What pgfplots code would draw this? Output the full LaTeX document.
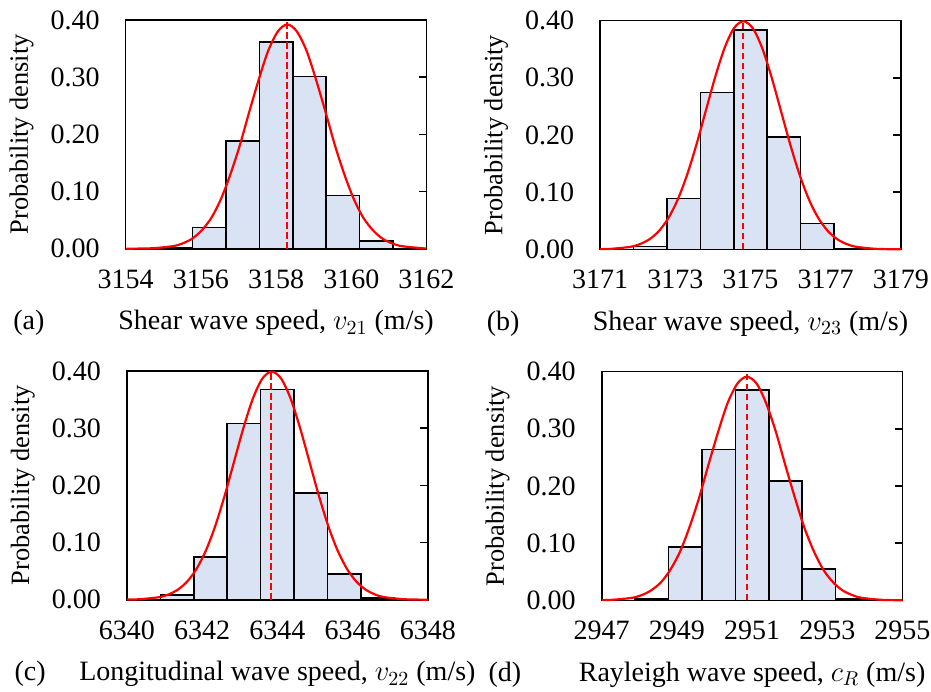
\documentclass[border=0pt]{standalone}
\usepackage{fontspec}
\setmainfont{Liberation Serif}
\usepackage{pgfplots}
\pgfplotsset{compat=1.18}
\definecolor{barfill}{HTML}{DAE3F3}
\definecolor{pdfred}{HTML}{FF0000}

\pgfplotsset{
  hist/.style={
    scale only axis, width=150.4pt, height=114.35pt,
    clip=false,
    axis line style={line width=0.8pt},
    ymin=0, ymax=0.4,
    ytick={0,0.1,0.2,0.3,0.4},
    ytick pos=right, yticklabel pos=left, ytick align=inside,
    major tick length=3.8pt,
    every tick/.style={black, line width=0.8pt},
    xtick style={draw=none},
    y tick label style={/pgf/number format/assume math mode=true,
      /pgf/number format/fixed, /pgf/number format/fixed zerofill,
      /pgf/number format/precision=2, anchor=east, inner sep=0pt, xshift=-12.8pt},
    x tick label style={/pgf/number format/assume math mode=true,
      /pgf/number format/1000 sep={}, anchor=base, inner sep=0pt, yshift=-19.7pt},
    ylabel={Probability density},
    ylabel style={at={(axis description cs:-0.346,0.5)}, anchor=center,
      font=\fontsize{13.2}{15}\selectfont},
    xlabel style={at={(axis description cs:0.5,-0.355)}, anchor=base},
  },
  bars/.style={ybar interval, fill=barfill, draw=black, line width=0.8pt},
  pdf/.style={pdfred, line width=1.1pt, smooth},
  mean/.style={pdfred, line width=1pt, dash pattern=on 3.3pt off 1.7pt},
}

\begin{document}
\begin{tikzpicture}[font=\fontsize{14}{16}\selectfont]
\path[use as bounding box] (-62.85pt,-221.15pt) rectangle (402.65pt,124.35pt);

% (a)
\begin{axis}[hist, at={(0pt,0pt)},
  xmin=3154, xmax=3162, xtick={3154,3156,3158,3160,3162},
  xlabel={Shear wave speed, $v_{21}$ (m/s)}]
\addplot[bars] coordinates {
  (3154.000,0) (3154.889,0.002) (3155.778,0.037) (3156.667,0.188)
  (3157.556,0.362) (3158.444,0.301) (3159.333,0.093) (3160.222,0.013)
  (3161.111,0) (3162.000,0)};
\addplot[pdf] coordinates {
  (3154.00,0.0000) (3154.23,0.0001) (3154.74,0.0009) (3155.25,0.0044)
  (3155.50,0.0089) (3155.76,0.0172) (3156.01,0.0312) (3156.27,0.0531)
  (3156.52,0.0848) (3156.77,0.1274) (3157.03,0.1796) (3157.28,0.2379)
  (3157.54,0.2961) (3157.79,0.3462) (3158.05,0.3802) (3158.30,0.3923)
  (3158.55,0.3802) (3158.81,0.3462) (3159.06,0.2961) (3159.32,0.2379)
  (3159.57,0.1796) (3159.83,0.1274) (3160.08,0.0848) (3160.33,0.0531)
  (3160.59,0.0312) (3160.84,0.0172) (3161.10,0.0089) (3161.35,0.0044)
  (3161.86,0.0009) (3162.00,0.0005)};
\addplot[mean] coordinates {(3158.30,0) (3158.30,0.4)};
\node[anchor=base] at (axis description cs:-0.322,-0.355) {(a)};
\end{axis}

% (b)
\begin{axis}[hist, at={(237.2pt,-0.3pt)},
  xmin=3171, xmax=3179, xtick={3171,3173,3175,3177,3179},
  xlabel={Shear wave speed, $v_{23}$ (m/s)}]
\addplot[bars] coordinates {
  (3171.000,0) (3171.889,0.005) (3172.778,0.089) (3173.667,0.274)
  (3174.556,0.384) (3175.444,0.196) (3176.333,0.045) (3177.222,0.001)
  (3178.111,0) (3179.000,0)};
\addplot[pdf] coordinates {
  (3171.00,0.0003) (3171.31,0.0009) (3171.81,0.0044) (3172.06,0.0091)
  (3172.31,0.0175) (3172.56,0.0317) (3172.81,0.0540) (3173.06,0.0863)
  (3173.31,0.1295) (3173.56,0.1826) (3173.81,0.2420) (3174.06,0.3011)
  (3174.31,0.3521) (3174.56,0.3867) (3174.81,0.3989) (3175.06,0.3867)
  (3175.31,0.3521) (3175.56,0.3011) (3175.81,0.2420) (3176.06,0.1826)
  (3176.31,0.1295) (3176.56,0.0863) (3176.81,0.0540) (3177.06,0.0317)
  (3177.31,0.0175) (3177.56,0.0091) (3177.81,0.0044) (3178.31,0.0009)
  (3178.81,0.0001) (3179.00,0.0001)};
\addplot[mean] coordinates {(3174.81,0) (3174.81,0.4)};
\node[anchor=base] at (axis description cs:-0.322,-0.355) {(b)};
\end{axis}

% (c)
\begin{axis}[hist, at={(0.65pt,-175.5pt)},
  xmin=6340, xmax=6348, xtick={6340,6342,6344,6346,6348},
  xlabel={Longitudinal wave speed, $v_{22}$ (m/s)}]
\addplot[bars] coordinates {
  (6340.000,0) (6340.889,0.008) (6341.778,0.075) (6342.667,0.308)
  (6343.556,0.368) (6344.444,0.187) (6345.333,0.045) (6346.222,0.003)
  (6347.111,0) (6348.000,0)};
\addplot[pdf] coordinates {
  (6340.00,0.0002) (6340.35,0.0009) (6340.85,0.0044) (6341.10,0.0091)
  (6341.35,0.0175) (6341.60,0.0317) (6341.85,0.0540) (6342.10,0.0863)
  (6342.35,0.1295) (6342.60,0.1826) (6342.85,0.2420) (6343.10,0.3011)
  (6343.35,0.3521) (6343.60,0.3867) (6343.85,0.3989) (6344.10,0.3867)
  (6344.35,0.3521) (6344.60,0.3011) (6344.85,0.2420) (6345.10,0.1826)
  (6345.35,0.1295) (6345.60,0.0863) (6345.85,0.0540) (6346.10,0.0317)
  (6346.35,0.0175) (6346.60,0.0091) (6346.85,0.0044) (6347.35,0.0009)
  (6347.85,0.0001) (6348.00,0.0001)};
\addplot[mean] coordinates {(6343.84,0) (6343.84,0.4)};
\node[anchor=base] at (axis description cs:-0.322,-0.355) {(c)};
\end{axis}

% (d)
\begin{axis}[hist, at={(238pt,-175.8pt)},
  xmin=2947, xmax=2955, xtick={2947,2949,2951,2953,2955},
  xlabel={Rayleigh wave speed, $c_{R}$ (m/s)}]
\addplot[bars] coordinates {
  (2947.000,0) (2947.889,0.002) (2948.778,0.093) (2949.667,0.264)
  (2950.556,0.368) (2951.444,0.209) (2952.333,0.055) (2953.222,0.002)
  (2954.111,0) (2955.000,0)};
\addplot[pdf] coordinates {
  (2947.00,0.0003) (2947.29,0.0009) (2947.80,0.0043) (2948.06,0.0089)
  (2948.31,0.0172) (2948.57,0.0311) (2948.82,0.0529) (2949.08,0.0846)
  (2949.33,0.1270) (2949.59,0.1791) (2949.84,0.2372) (2950.10,0.2952)
  (2950.35,0.3452) (2950.61,0.3791) (2950.86,0.3911) (2951.12,0.3791)
  (2951.37,0.3452) (2951.63,0.2952) (2951.88,0.2372) (2952.14,0.1791)
  (2952.39,0.1270) (2952.65,0.0846) (2952.90,0.0529) (2953.16,0.0311)
  (2953.41,0.0172) (2953.67,0.0089) (2953.92,0.0043) (2954.43,0.0009)
  (2954.94,0.0001) (2955.00,0.0001)};
\addplot[mean] coordinates {(2950.86,0) (2950.86,0.4)};
\node[anchor=base] at (axis description cs:-0.322,-0.355) {(d)};
\end{axis}
\end{tikzpicture}
\end{document}
